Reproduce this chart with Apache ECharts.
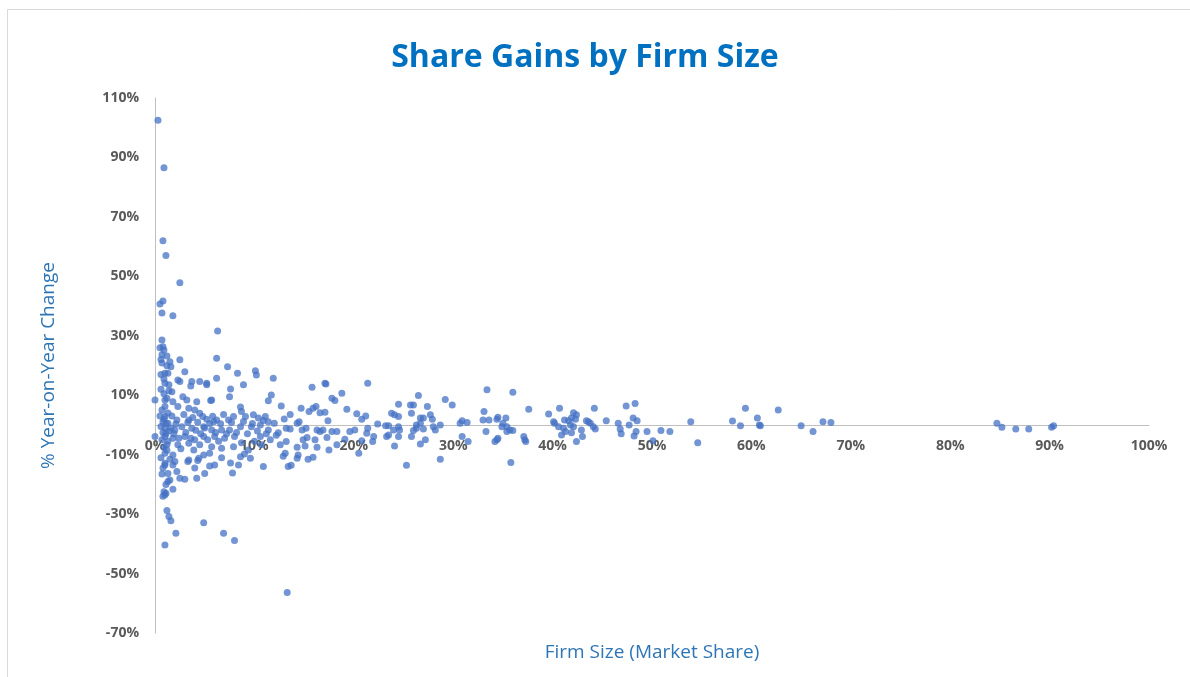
<!DOCTYPE html>
<html>
<head>
<meta charset="utf-8">
<script src="https://cdn.jsdelivr.net/npm/echarts@6/dist/echarts.min.js"></script>
<style>html,body{margin:0;padding:0;background:#fff}#c{width:1190px;height:677px}</style>
</head>
<body>
<div id="c"></div>
<script>
// [firm market share %, year-on-year change %]
const smallFirms = [
[0.3,102.5],[0.9,86.5],[0.8,62],[1.1,57],[2.5,47.8],[0.8,41.7],[0.5,40.7],[0.7,37.7],[1.8,36.7],[0.7,28.6],
[0.8,26.3],[0.9,25.2],[0.7,23.6],[1.2,23.2],[0.7,20.8],[1.5,21.3],[1.2,19.9],[1.6,19.6],[2.5,21.9],[1.0,17.4],
[1.3,17.4],[1.0,14.0],[1.4,13.5],[1.7,11.2],[2.5,14.6],[2.3,15.1],[0,8.4],[1.0,8.4],[1.0,6.2],[1.8,7.8],
[2.3,6.2],[2.8,9.5],[1.0,2.8],[0.8,1.1],[1.3,0.6],[2.2,1.7],[1.0,-1.1],[2.0,-1.7],[2.7,-0.6],[0,-3.9],
[1.0,-3.9],[1.8,-4.5],[1.2,-6.7],[2.3,-6.7],[1.0,-9.5],[1.8,-10.1],[1.0,-12.9],[2.0,-12.3],[1.0,-13.5],[1.8,-13.5],
[1.3,-16.3],[2.2,-15.7],[2.5,-17.9],[1.5,-18.5],[1.1,-23],[1.8,-21.6],[1.2,-28.8],[1.4,-30.8],[1.6,-32.2],[2.1,-36.4],
[1.0,-40.4],[0.6,12],[0.9,10.5],[1.2,9],[0.7,5],[1.3,4],[0.5,3],[0.9,2],[1.1,0.5],[0.6,-0.5],
[1.4,-2],[0.8,-2.5],[1.1,-3],[0.7,-5],[1.3,-5.5],[0.9,-7.5],[1.2,-8.5],[0.6,-11],[1.5,-11.5],[0.8,-14.5],
[1.1,-20],[0.9,-22.5],[1.0,-23.5],[1.6,-1],[1.7,3],[1.9,-3],[2.1,0.3],[2.4,-4.5],[2.6,-8],[2.9,3.5],
[0.5,26],[0.6,22],[0.9,15.5],[0.6,17],[1.4,11.5],[0.7,-16.5],[1.3,-19],[0.8,-24]
];
const midSmallFirms = [
[3.0,17.9],[3.7,14.6],[4.5,14.6],[5.2,14.0],[6.2,15.7],[6.2,22.4],[7.3,19.6],[8.3,17.4],[10.1,18.2],[10.2,16.8],
[11.9,15.7],[8.9,13.5],[7.6,12.1],[7.5,9.5],[11.7,10.1],[11.4,8.1],[12.7,6.4],[5.6,8.2],[3.6,13.1],[5.2,13.5],
[3.2,8.4],[3.4,5.6],[4.2,7.8],[5.7,8.4],[4.0,5.0],[4.5,3.9],[3.4,1.7],[5.2,1.9],[5.9,1.1],[6.2,1.7],
[3.7,-1.1],[4.9,-0.6],[5.7,-1.7],[3.0,-3.9],[4.0,-5.0],[4.9,-3.9],[6.0,-3.9],[3.4,-6.2],[4.5,-6.7],[5.7,-7.3],
[3.9,-8.4],[4.9,-10.1],[5.5,-9.5],[3.4,-11.8],[4.4,-11.2],[6.0,-13.5],[3.0,-18.3],[4.2,-17.9],[5.0,-16.3],[3.3,-12.3],
[4.3,-12],[4.9,-32.9],[6.9,-36.4],[8.0,-38.9],[13.3,-56.4],[6.3,31.6],
[8.6,6.0],[8.7,4.5],[7.4,1.7],[7.9,2.8],[9.1,2.8],[9.9,3.4],[10.4,2.3],[11.1,2.8],[11.4,1.1],[13.2,-1.1],
[6.7,-1.7],[7.5,-1.7],[8.6,-0.6],[9.7,-0.6],[10.6,0],[11.4,-1.7],[7.0,-4.5],[8.0,-3.9],[10.6,-3.9],[11.6,-5.0],
[12.6,-6.7],[13.2,-5.6],[6.7,-7.8],[7.9,-7.3],[9.4,-8.4],[10.7,-6.7],[13.1,-9.5],[8.6,-10.7],[9.6,-11.2],[8.4,-13.5],
[10.9,-14.0],[13.4,-14.0],
[3.1,-2.5],[3.3,0.8],[3.6,-4.5],[3.8,2.5],[4.1,-1.8],[4.3,0.9],[4.6,-3],[4.8,2.8],[5.0,-1],[5.3,-5],
[5.5,0.5],[5.8,2.9],[6.1,-2.5],[6.4,-5.5],[6.6,0.4],[6.9,3.5],[7.2,-3],[7.7,0.8],[8.2,-2.5],[8.9,1.2],
[9.3,-3],[9.8,0.5],[10.3,-2],[10.9,1.5],[11.2,-3],[12.0,0.6],[12.4,-2.6],[13.0,2],[13.6,3.5],[6.7,-11],
[7.6,-12.8],[7.8,-16.2],[4.0,-14.5],[5.5,-13.8],[9.0,-9.8],[8.7,-6],[10,-5.5],[12.2,-3.5],[12.9,-10.5]
];
const midFirms = [
[15.8,12.7],[17.1,14.0],[17.2,13.8],[21.4,14.0],[18.8,10.7],[17.8,9.0],[18.1,8.2],[14.7,5.6],[15.5,4.5],[15.9,5.6],
[16.2,6.2],[16.6,4.1],[17.1,4.3],[19.3,5.3],[17.4,1.4],[20.8,1.9],[21.2,3.0],[14.3,0.6],[14.5,1.1],[13.6,-1.4],
[14.8,-1.7],[15.2,-1.1],[16.3,-1.7],[16.6,-2.2],[16.9,-1.7],[17.8,-2.2],[18.3,-2.2],[19.6,-2.2],[21.4,-1.1],[22.0,-3.9],
[21.9,-5.6],[14.9,-5.0],[15.3,-4.2],[16.1,-5.0],[17.3,-4.2],[19.1,-4.8],[14.3,-7.5],[15.1,-7.1],[16.3,-7.5],[17.5,-8.4],
[18.3,-6.7],[14.4,-10.1],[14.3,-11.2],[15.4,-11.5],[15.9,-10.9],[20.5,-9.5],[13.7,-13.6],[25.3,-13.6],[23.2,-0.3],[23.5,-0.3],
[24.0,-1.7],[24.5,-0.6],[24.6,-1.7],[23.8,3.9],[24.1,3.4],[24.5,2.8],[24.5,7.0],[25.7,6.7],[26.0,6.7],[26.5,9.9],
[25.8,3.9],[26.7,2.3],[27.0,2.3],[26.3,0],[26.7,0.6],[27.4,6.2],[27.7,3.4],[27.9,1.9],[26.0,-1.9],[26.3,-1.1],
[27.0,-1.4],[28.0,-0.6],[28.2,-1.7],[28.7,0],[29.2,8.6],[29.9,6.7],[30.9,1.4],[30.7,0.6],[31.4,0.8],[30.9,-3.9],
[31.5,-5.6],[33.4,11.8],[33.1,4.5],[33.0,1.7],[33.6,1.7],[33.3,-2.2],[34.4,1.9],[34.4,-5.0],[24.1,-7.1],[26.7,-6.4],
[27.2,-5.0],[28.7,-11.5],[23.3,-3.9],[23.5,-3.4],[24.5,-3.9],[25.8,-3.9],[20.8,-5.3],[21.3,-2.8],[20.1,-1.7],[20.3,3.8],
[22.4,0.3]
];
const largeFirms = [
[36.0,11.0],[34.5,2.6],[35.3,2.3],[35.0,0.6],[34.9,-0.6],[35.4,-0.6],[35.7,-1.7],[36.0,-1.9],[35.4,-2.2],[34.5,-4.5],
[34.2,-5.6],[37.1,-3.9],[37.2,-5.0],[37.3,-5.6],[35.8,-12.6],[37.6,5.3],[39.6,3.7],[40.7,5.6],[40.1,1.1],[40.2,0.6],
[41.2,1.7],[41.6,1.4],[42.1,4.1],[42.4,3.4],[41.9,2.3],[42.3,1.9],[40.6,-0.6],[41.1,-1.1],[41.8,0],[42.1,-0.6],
[40.9,-3.4],[41.3,-2.2],[41.9,-2.6],[42.4,-5.6],[42.9,-1.7],[43.0,-3.9],[43.4,1.4],[43.6,1.1],[43.8,0.6],[44.1,-0.6],
[44.3,-1.4],[44.2,5.6],[45.4,1.4],[46.6,0.6],[46.8,-1.4],[46.9,-3.0],[47.4,6.4],[48.3,7.2],[48.1,2.3],[48.5,1.4],
[47.7,0],[48.2,-3.7],[48.4,-2.2],[49.5,-2.2],[50.1,-5.3],[50.9,-1.9],[51.8,-2.2],[53.9,1.1],[54.6,-6.0],[58.1,1.3],
[58.9,-0.3],[59.4,5.6],[60.6,2.3],[60.8,0],[60.9,-0.3],[62.7,5.0],[65.0,-0.3],[66.2,-2.2],[67.2,1.1],[68.0,0.8],
[84.7,0.6],[85.2,-0.8],[86.6,-1.4],[87.9,-1.4],[90.2,-0.8],[90.4,-0.3]
];
const titleText = 'Share Gains by Firm Size';
const xAxisName = 'Firm Size (Market Share)';
const yAxisName = '% Year-on-Year Change';

const chart = echarts.init(document.getElementById('c'));
const labelFont = { color: '#595959', fontWeight: 'bold', fontSize: 14, fontFamily: 'Open Sans' };
chart.setOption({
  animation: false,
  backgroundColor: '#fff',
  title: {
    text: titleText, left: 580, top: 37, textAlign: 'center',
    textStyle: { color: '#0070C0', fontSize: 32, fontWeight: 'bold', fontFamily: 'Open Sans' }
  },
  graphic: [{
    type: 'rect', left: 5, top: 7, silent: true,
    shape: { width: 1200, height: 700 },
    style: { fill: 'none', stroke: '#d9d9d9', lineWidth: 1 }
  }],
  grid: { left: 155, right: 41, top: 98, bottom: 44, containLabel: false, outerBoundsMode: 'none' },
  xAxis: {
    type: 'value', min: 0, max: 100, interval: 10,
    position: 'bottom', offset: -208,
    name: xAxisName, nameLocation: 'middle', nameGap: 218,
    nameTextStyle: { color: '#2E75B6', fontSize: 19, fontFamily: 'Open Sans' },
    axisLine: { onZero: false, lineStyle: { color: '#bfbfbf', width: 1 } },
    axisTick: { show: false },
    splitLine: { show: false },
    axisLabel: Object.assign({ formatter: '{value}%', margin: 14 }, labelFont)
  },
  yAxis: {
    type: 'value', min: -70, max: 110, interval: 20,
    name: yAxisName, nameLocation: 'middle', nameGap: 97, nameRotate: 90,
    nameTextStyle: { color: '#2E75B6', fontSize: 19, fontFamily: 'Open Sans' },
    axisLine: { show: true, onZero: false, lineStyle: { color: '#bfbfbf', width: 1 } },
    axisTick: { show: false },
    splitLine: { show: false },
    axisLabel: Object.assign({ formatter: '{value}%', margin: 16 }, labelFont)
  },
  series: [{
    type: 'scatter', symbolSize: 7,
    itemStyle: { color: '#4472C4', opacity: 0.75 },
    data: [].concat(smallFirms, midSmallFirms, midFirms, largeFirms)
  }]
});
</script>
</body>
</html>
